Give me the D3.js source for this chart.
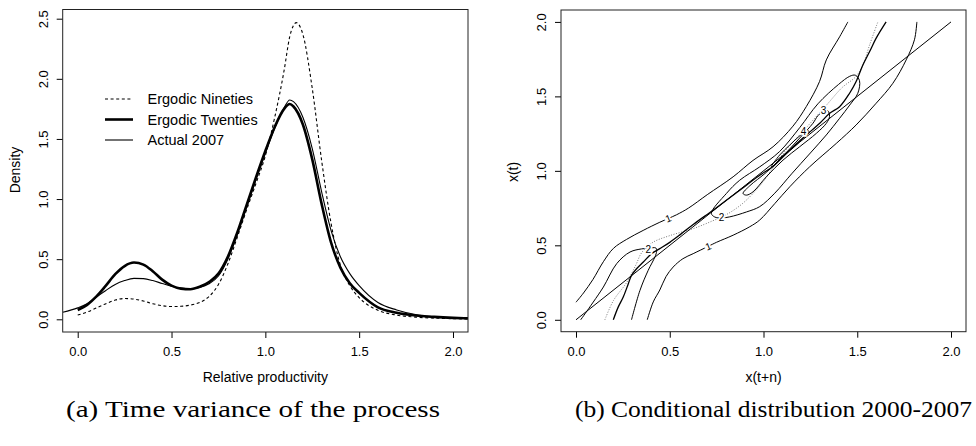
<!DOCTYPE html>
<html>
<head>
<meta charset="utf-8">
<script src="https://cdn.jsdelivr.net/npm/d3@7"></script>
<style>
  body { margin: 0; background: #fff; }
  svg text { font-family: "Liberation Sans", Arial, sans-serif; }
</style>
</head>
<body>
<div id="container"></div>
<script>
/* ---------- DATA ---------- */

// panel (a): density estimates, [relative productivity, density]
const ninetiesPts = [[0,0.036],[0.05,0.06],[0.1,0.095],[0.15,0.13],[0.2,0.16],[0.25,0.173],[0.3,0.168],[0.35,0.152],[0.4,0.13],[0.45,0.113],[0.5,0.106],[0.55,0.108],[0.6,0.118],[0.65,0.14],[0.7,0.19],[0.75,0.29],[0.8,0.46],[0.85,0.68],[0.9,0.91],[0.95,1.13],[1.0,1.36],[1.05,1.68],[1.1,2.07],[1.13,2.35],[1.165,2.467],[1.2,2.37],[1.25,1.92],[1.3,1.32],[1.35,0.8],[1.4,0.45],[1.45,0.28],[1.5,0.18],[1.6,0.075],[1.7,0.035],[1.8,0.018],[1.9,0.01],[2.0,0.005],[2.08,0.003]];
const twentiesPts = [[0,0.077],[0.05,0.12],[0.1,0.19],[0.15,0.28],[0.2,0.375],[0.25,0.443],[0.3,0.472],[0.35,0.455],[0.4,0.4],[0.45,0.33],[0.5,0.28],[0.55,0.255],[0.6,0.25],[0.65,0.27],[0.7,0.31],[0.75,0.38],[0.8,0.52],[0.85,0.72],[0.9,0.95],[0.95,1.18],[1.0,1.4],[1.05,1.6],[1.1,1.75],[1.13,1.79],[1.15,1.77],[1.2,1.62],[1.25,1.33],[1.3,0.96],[1.35,0.64],[1.4,0.43],[1.45,0.3],[1.5,0.22],[1.6,0.1],[1.7,0.055],[1.8,0.032],[1.9,0.02],[2.0,0.012],[2.08,0.008]];
const actualPts = [[-0.08,0.058],[0,0.095],[0.05,0.13],[0.1,0.185],[0.15,0.24],[0.2,0.29],[0.25,0.322],[0.3,0.34],[0.35,0.338],[0.4,0.322],[0.45,0.298],[0.5,0.275],[0.55,0.26],[0.6,0.255],[0.65,0.265],[0.7,0.295],[0.75,0.36],[0.8,0.5],[0.85,0.7],[0.9,0.93],[0.95,1.16],[1.0,1.38],[1.05,1.59],[1.1,1.76],[1.13,1.824],[1.15,1.81],[1.2,1.68],[1.25,1.42],[1.3,1.06],[1.35,0.74],[1.4,0.52],[1.45,0.38],[1.5,0.28],[1.6,0.14],[1.7,0.078],[1.8,0.04],[1.9,0.02],[2.0,0.012],[2.08,0.008]];
const legendLabels = ["Ergodic Nineties", "Ergodic Twenties", "Actual 2007"];
const densityTicksX = [0, 0.5, 1, 1.5, 2];
const densityTicksY = [0, 0.5, 1, 1.5, 2, 2.5];

// panel (b): stochastic kernel contours, [x(t+n), x(t)]
const level1Upper = [[0,0.118],[0.04,0.18],[0.09,0.27],[0.146,0.39],[0.2,0.48],[0.27,0.54],[0.358,0.6],[0.447,0.655],[0.492,0.68],[0.536,0.705],[0.6,0.75],[0.7,0.84],[0.838,0.96],[0.944,1.07],[1.051,1.162],[1.157,1.3],[1.228,1.431],[1.299,1.6],[1.335,1.745],[1.406,1.9],[1.45,2.0]];
const level1Lower = [[0.38,0],[0.412,0.12],[0.447,0.2],[0.48,0.29],[0.518,0.354],[0.57,0.41],[0.625,0.444],[0.705,0.493],[0.749,0.52],[0.838,0.568],[0.927,0.625],[0.98,0.67],[1.06,0.78],[1.14,0.893],[1.246,1.027],[1.388,1.184],[1.494,1.308],[1.601,1.454],[1.69,1.588],[1.761,1.745],[1.805,1.88],[1.818,2.0]];
const level2Left = [[0.025,0],[0.048,0.04],[0.092,0.119],[0.146,0.22],[0.217,0.377],[0.288,0.455],[0.35,0.476],[0.385,0.48],[0.426,0.482],[0.43,0.46],[0.421,0.422],[0.385,0.332],[0.341,0.197],[0.296,0]];
const level2Mid = [[0.722,0.715],[0.802,0.848],[0.873,0.937],[0.98,1.027],[1.086,1.13],[1.193,1.29],[1.29,1.45],[1.4,1.58],[1.46,1.635],[1.49,1.642],[1.512,1.605],[1.503,1.521],[1.46,1.442],[1.406,1.353],[1.335,1.241],[1.25,1.12],[1.15,0.98],[1.06,0.85],[0.98,0.76],[0.909,0.724],[0.82,0.691],[0.776,0.684],[0.74,0.69]];
const level3 = [[0.891,0.848],[0.927,0.9],[1.015,0.99],[1.104,1.1],[1.193,1.22],[1.264,1.32],[1.29,1.37],[1.32,1.4],[1.343,1.404],[1.352,1.364],[1.335,1.319],[1.282,1.252],[1.193,1.162],[1.104,1.072],[1.015,0.96],[0.944,0.859],[0.909,0.837]];
const level4 = [[1.042,1.027],[1.086,1.106],[1.14,1.173],[1.184,1.225],[1.214,1.255],[1.237,1.27],[1.245,1.258],[1.228,1.24],[1.175,1.173],[1.104,1.095],[1.06,1.039]];
const dottedPts = [[0.154,0],[0.2,0.13],[0.27,0.25],[0.32,0.37],[0.35,0.45],[0.41,0.52],[0.5,0.565],[0.625,0.612],[0.73,0.665],[0.8,0.705],[0.873,0.765],[0.93,0.83],[1.0,0.93],[1.06,1.04],[1.12,1.14],[1.228,1.29],[1.335,1.44],[1.42,1.56],[1.49,1.63],[1.53,1.71],[1.566,1.846],[1.61,2.0]];
const jaggedPts = [[0.199,0],[0.225,0.085],[0.252,0.153],[0.279,0.242],[0.296,0.298],[0.323,0.343],[0.359,0.388],[0.403,0.444],[0.447,0.478],[0.5,0.52],[0.554,0.57],[0.625,0.64],[0.731,0.736],[0.802,0.803],[0.909,0.904],[0.98,0.971],[1.051,1.03],[1.157,1.16],[1.228,1.24],[1.3,1.32],[1.353,1.386],[1.406,1.431],[1.459,1.521],[1.494,1.6],[1.53,1.711],[1.566,1.801],[1.601,1.891],[1.654,2.0]];
const diagonalPts = [[0,0],[2,2]];
const contourLabels = [
  { level: "1", at: [0.492, 0.68] },
  { level: "1", at: [0.705, 0.493] },
  { level: "2", at: [0.385, 0.471] },
  { level: "2", at: [0.776, 0.684] },
  { level: "3", at: [1.32, 1.404] },
  { level: "4", at: [1.214, 1.263] }
];
const kernelTicks = [0, 0.5, 1, 1.5, 2];
const captions = ["(a) Time variance of the process", "(b) Conditional distribution 2000-2007"];

/* ---------- SVG ---------- */
const width = 976, height = 446;
const svg = d3.select("#container").append("svg")
  .attr("width", width).attr("height", height)
  .style("background", "#fff");

const fmt = d3.format(".1f");

// draws box, ticks and tick labels the way R's plot() does
function drawFrame(x, y, xt, yt) {
  const [x0, x1] = x.range(), [y0, y1] = y.range();
  const gx = svg.append("g").attr("transform", `translate(0,${y0})`)
    .call(d3.axisBottom(x).tickValues(xt).tickFormat(fmt).tickSize(6).tickSizeOuter(0));
  gx.select(".domain").remove();
  gx.selectAll("text").attr("y", 15).style("font-size", "13px").attr("fill", "#000");

  const gy = svg.append("g").attr("transform", `translate(${x0},0)`)
    .call(d3.axisLeft(y).tickValues(yt).tickFormat(fmt).tickSize(6).tickSizeOuter(0));
  gy.select(".domain").remove();
  gy.selectAll("text")
    .attr("transform", "rotate(-90)")
    .attr("x", 0).attr("y", -15).attr("dy", 0)
    .attr("text-anchor", "middle")
    .style("font-size", "13px").attr("fill", "#000");

  svg.append("rect")
    .attr("x", x0).attr("y", y1).attr("width", x1 - x0).attr("height", y0 - y1)
    .attr("fill", "none").attr("stroke", "#222").attr("stroke-width", 1);
}

function clipFor(id, x, y) {
  svg.append("clipPath").attr("id", id).append("rect")
    .attr("x", x.range()[0]).attr("y", y.range()[1])
    .attr("width", x.range()[1] - x.range()[0])
    .attr("height", y.range()[0] - y.range()[1]);
}

/* ---------- panel (a) ---------- */
const xA = d3.scaleLinear().domain([-0.08, 2.08]).range([62.7, 468]);
const yA = d3.scaleLinear().domain([-0.1056, 2.5765]).range([332, 9.5]);
clipFor("clipA", xA, yA);

const lineA = d3.line().x(d => xA(d[0])).y(d => yA(d[1])).curve(d3.curveMonotoneX);
const densitySeries = [
  { pts: ninetiesPts, w: 1.1, dash: "3,2.6" },
  { pts: twentiesPts, w: 2.6, dash: null },
  { pts: actualPts, w: 1.1, dash: null }
];
const gA = svg.append("g").attr("clip-path", "url(#clipA)");
gA.selectAll("path").data(densitySeries).join("path")
  .attr("d", d => lineA(d.pts))
  .attr("fill", "none").attr("stroke", "#000")
  .attr("stroke-width", d => d.w)
  .attr("stroke-dasharray", d => d.dash);

drawFrame(xA, yA, densityTicksX, densityTicksY);

// legend
const legend = svg.append("g");
legend.selectAll("line").data(densitySeries).join("line")
  .attr("x1", 105).attr("x2", 133)
  .attr("y1", (d, i) => 99 + i * 20.5).attr("y2", (d, i) => 99 + i * 20.5)
  .attr("stroke", "#000").attr("stroke-width", d => d.w)
  .attr("stroke-dasharray", d => d.dash);
legend.selectAll("text").data(legendLabels).join("text")
  .attr("x", 147.5).attr("y", (d, i) => 99 + i * 20.5)
  .attr("dy", "0.35em")
  .style("font-size", "14.5px")
  .text(d => d);

svg.append("text").attr("x", (xA(0) + xA(2)) / 2).attr("y", 381.5)
  .attr("text-anchor", "middle").style("font-size", "14px")
  .text("Relative productivity");
svg.append("text").attr("transform", "translate(20,170) rotate(-90)")
  .attr("text-anchor", "middle").style("font-size", "14px")
  .text("Density");

/* ---------- panel (b) ---------- */
const xB = d3.scaleLinear().domain([-0.08, 2.08]).range([561, 966]);
const yB = d3.scaleLinear().domain([-0.08, 2.08]).range([331.7, 10]);
clipFor("clipB", xB, yB);

const lineB = d3.line().x(d => xB(d[0])).y(d => yB(d[1])).curve(d3.curveCatmullRom.alpha(0.5));
const loopB = d3.line().x(d => xB(d[0])).y(d => yB(d[1])).curve(d3.curveCatmullRomClosed.alpha(0.5));
const gB = svg.append("g").attr("clip-path", "url(#clipB)");

// grey dotted curve
gB.append("path").attr("d", lineB(dottedPts))
  .attr("fill", "none").attr("stroke", "#777").attr("stroke-width", 1)
  .attr("stroke-dasharray", "1,1.6");

// 45 degree line and jagged line
gB.append("path").attr("d", d3.line().x(d => xB(d[0])).y(d => yB(d[1]))(diagonalPts))
  .attr("fill", "none").attr("stroke", "#000").attr("stroke-width", 1);
gB.append("path").attr("d", lineB(jaggedPts))
  .attr("fill", "none").attr("stroke", "#000").attr("stroke-width", 1.3);

// contour lines
[level1Upper, level1Lower, level2Left].forEach(c => {
  gB.append("path").attr("d", lineB(c))
    .attr("fill", "none").attr("stroke", "#000").attr("stroke-width", 1);
});
[level2Mid, level3, level4].forEach(c => {
  gB.append("path").attr("d", loopB(c))
    .attr("fill", "none").attr("stroke", "#000").attr("stroke-width", 1);
});

// contour labels, with a white gap in the line like R's contour()
gB.selectAll("text.lab").data(contourLabels).join("text")
  .attr("class", "lab")
  .attr("transform", d => `translate(${xB(d.at[0])},${yB(d.at[1])}) rotate(${d.level === "1" ? -22 : 0})`)
  .attr("text-anchor", "middle").attr("dy", "0.35em")
  .style("font-size", "10px")
  .attr("stroke", "#fff").attr("stroke-width", 3.5)
  .style("paint-order", "stroke")
  .text(d => d.level);

drawFrame(xB, yB, kernelTicks, kernelTicks);

svg.append("text").attr("x", (xB(0) + xB(2)) / 2).attr("y", 381.5)
  .attr("text-anchor", "middle").style("font-size", "14px")
  .text("x(t+n)");
svg.append("text").attr("transform", "translate(518,172) rotate(-90)")
  .attr("text-anchor", "middle").style("font-size", "14px")
  .text("x(t)");

/* ---------- captions ---------- */
const capX = [253, 773.5], capW = [374, 397];
svg.selectAll("text.cap").data(captions).join("text")
  .attr("class", "cap")
  .attr("x", (d, i) => capX[i]).attr("y", 417)
  .attr("text-anchor", "middle")
  .style("font-family", "'Liberation Serif', 'DejaVu Serif', serif")
  .style("font-size", "24px")
  .attr("textLength", (d, i) => capW[i])
  .attr("lengthAdjust", "spacingAndGlyphs")
  .text(d => d);
</script>
</body>
</html>
